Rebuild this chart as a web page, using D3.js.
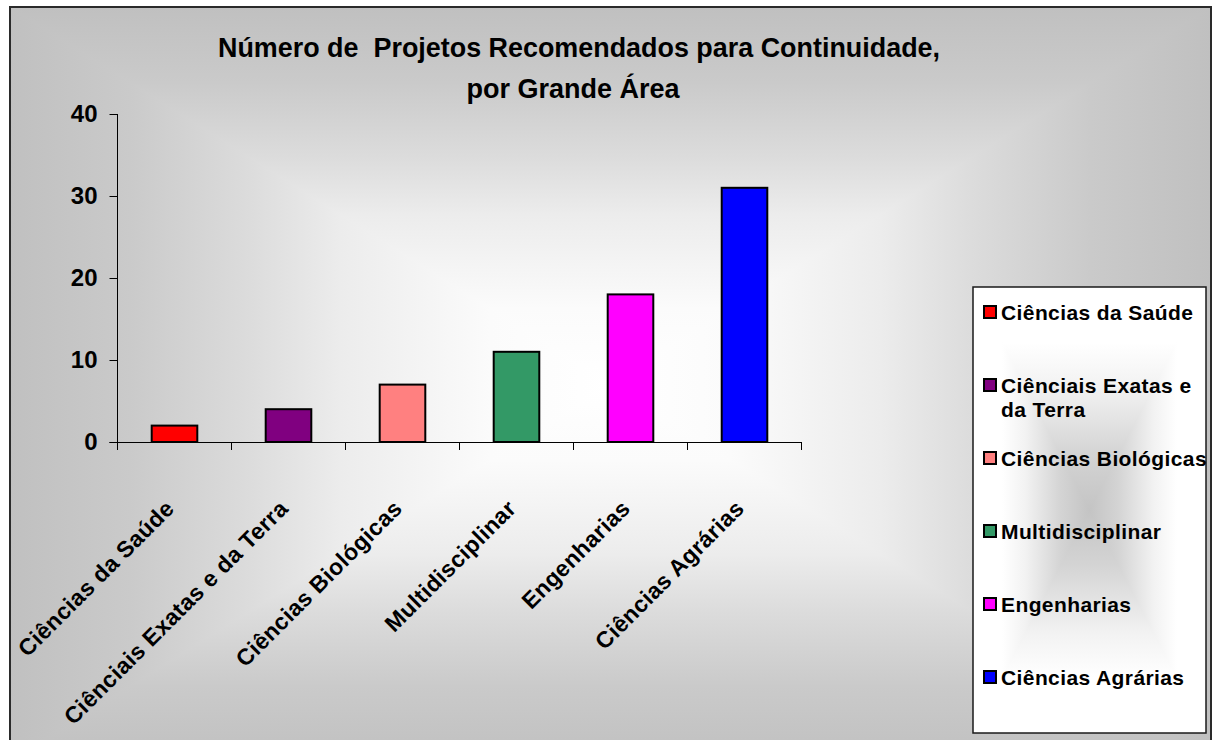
<!DOCTYPE html>
<html>
<head>
<meta charset="utf-8">
<script src="https://cdn.jsdelivr.net/npm/d3@7"></script>
<style>
  html, body { margin: 0; padding: 0; background: #ffffff; }
  svg { display: block; }
  text { font-family: "Liberation Sans", Arial, sans-serif; font-weight: bold; fill: #000; }
</style>
</head>
<body>
<svg id="chart" width="1212" height="740"></svg>
<script>
// ---- data ----
const categories = ["Ciências da Saúde", "Ciênciais Exatas e da Terra", "Ciências Biológicas", "Multidisciplinar", "Engenharias", "Ciências Agrárias"];
const values = [2, 4, 7, 11, 18, 31];
const barColors = ["#FF0000", "#800080", "#FF8080", "#339966", "#FF00FF", "#0000FF"];
const yTicks = [0, 10, 20, 30, 40];
const legendLines = [["Ciências da Saúde"], ["Ciênciais Exatas e", "da Terra"], ["Ciências Biológicas"], ["Multidisciplinar"], ["Engenharias"], ["Ciências Agrárias"]];
const titleLines = ["Número de  Projetos Recomendados para Continuidade,", "por Grande Área"];

const svg = d3.select("#chart");
const defs = svg.append("defs");

// rectangular "from center" gradient: full rect with horizontal gradient, top/bottom triangles with vertical gradient
function rectGradient(id, x0, y0, x1, y1, stops) {
  const cx = (x0 + x1) / 2, cy = (y0 + y1) / 2;
  const mk = (gid, ax, ay, bx, by) => {
    const g = defs.append("linearGradient").attr("id", gid).attr("gradientUnits", "userSpaceOnUse")
      .attr("x1", ax).attr("y1", ay).attr("x2", bx).attr("y2", by);
    const all = [];
    stops.slice().reverse().forEach(s => all.push([(1 - s[0]) / 2, s[1]]));
    stops.forEach(s => all.push([0.5 + s[0] / 2, s[1]]));
    all.forEach(s => g.append("stop").attr("offset", s[0]).attr("stop-color", s[1]));
  };
  mk(id + "H", x0, 0, x1, 0);
  mk(id + "V", 0, y0, 0, y1);
  const g = svg.append("g");
  g.append("rect").attr("x", x0).attr("y", y0).attr("width", x1 - x0).attr("height", y1 - y0).attr("fill", `url(#${id}H)`);
  g.append("polygon").attr("points", `${x0},${y0} ${x1},${y0} ${cx},${cy}`).attr("fill", `url(#${id}V)`);
  g.append("polygon").attr("points", `${x0},${y1} ${x1},${y1} ${cx},${cy}`).attr("fill", `url(#${id}V)`);
  return g;
}

// chart area background
const area = {x0: 10, y0: 7, x1: 1211, y1: 762};
rectGradient("bg", area.x0, area.y0, area.x1, area.y1,
  [[0, "#ffffff"], [0.2, "#fbfbfb"], [0.45, "#ececec"], [0.6, "#dcdcdc"], [0.8, "#cacaca"], [1, "#c0c0c0"]]);
svg.append("rect").attr("x", area.x0).attr("y", area.y0).attr("width", area.x1 - area.x0).attr("height", area.y1 - area.y0)
  .attr("fill", "none").attr("stroke", "#2a2a2a").attr("stroke-width", 2);

// title
const title = svg.append("g");
title.append("text").attr("x", 579).attr("y", 57).attr("text-anchor", "middle").attr("font-size", 27)
  .attr("textLength", 722).attr("lengthAdjust", "spacingAndGlyphs").style("white-space", "pre").text(titleLines[0]);
title.append("text").attr("x", 573).attr("y", 98).attr("text-anchor", "middle").attr("font-size", 27).text(titleLines[1]);

// scales
const x = d3.scaleBand().domain(categories).range([117.5, 801.5]).paddingInner(0.6).paddingOuter(0.3);
const y = d3.scaleLinear().domain([0, 40]).range([442, 114]);

// bars
svg.append("g").selectAll("rect").data(values).join("rect")
  .attr("x", (d, i) => x(categories[i]))
  .attr("y", d => y(d))
  .attr("width", x.bandwidth())
  .attr("height", d => y(0) - y(d))
  .attr("fill", (d, i) => barColors[i])
  .attr("stroke", "#000").attr("stroke-width", 2);

// y axis
const yAxis = svg.append("g").attr("transform", "translate(117.5,0)")
  .call(d3.axisLeft(y).tickValues(yTicks).tickSize(8).tickPadding(12).tickFormat(d3.format("d")));
yAxis.select(".domain").attr("stroke", "#000").attr("d", `M0,${y(40)}V${y(0)}`);
yAxis.selectAll(".tick line").attr("stroke", "#000");
yAxis.selectAll("text").attr("font-size", 24).attr("font-family", "Liberation Sans, Arial, sans-serif").attr("font-weight", "bold").attr("fill", "#000");

// x axis line + boundary ticks
const step = x.step();
const xStart = x.range()[0];
const bounds = d3.range(categories.length + 1).map(i => xStart + i * step);
const xg = svg.append("g");
xg.append("line").attr("x1", 109.5).attr("x2", bounds[bounds.length - 1]).attr("y1", y(0) + 0.5).attr("y2", y(0) + 0.5).attr("stroke", "#000");
xg.selectAll("line.t").data(bounds).join("line").attr("class", "t")
  .attr("x1", d => d).attr("x2", d => d).attr("y1", y(0)).attr("y2", y(0) + 8).attr("stroke", "#000");

// x labels rotated
xg.selectAll("text").data(categories).join("text")
  .attr("transform", d => `translate(${x(d) + x.bandwidth() / 2 + 1},${510}) rotate(-45)`)
  .attr("text-anchor", "end").attr("font-size", 23).attr("letter-spacing", 0.35)
  .text(d => d);

// legend
const lg = {x0: 973, y0: 287, x1: 1206, y1: 733};
rectGradient("lg", lg.x0, lg.y0, lg.x1, lg.y1,
  [[0, "#c4c4c4"], [0.25, "#d4d4d4"], [0.55, "#f2f2f2"], [0.75, "#ffffff"], [1, "#ffffff"]]);
svg.append("rect").attr("x", lg.x0).attr("y", lg.y0).attr("width", lg.x1 - lg.x0).attr("height", lg.y1 - lg.y0)
  .attr("fill", "none").attr("stroke", "#1a1a1a").attr("stroke-width", 1.5);
const ly = d3.scalePoint().domain(d3.range(categories.length)).range([312, 677]);
const items = svg.append("g").selectAll("g").data(legendLines).join("g")
  .attr("transform", (d, i) => `translate(0,${ly(i)})`);
items.append("rect").attr("x", 984).attr("y", -6).attr("width", 12).attr("height", 12)
  .attr("fill", (d, i) => barColors[i]).attr("stroke", "#000").attr("stroke-width", 2);
items.each(function(lines) {
  const g = d3.select(this);
  lines.forEach((ln, j) => {
    g.append("text").attr("x", 1001).attr("y", 7.5 + j * 24).attr("font-size", 21).attr("letter-spacing", 0.4).text(ln);
  });
});
</script>
</body>
</html>
